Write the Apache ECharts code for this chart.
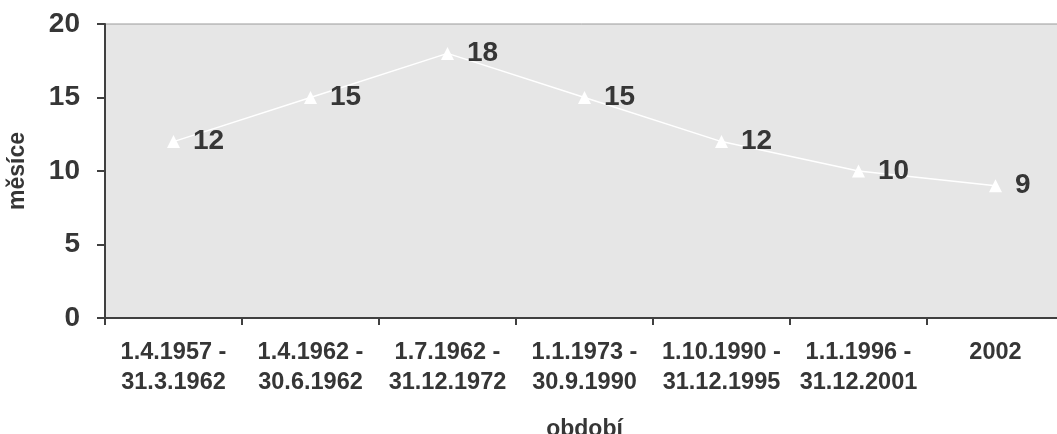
<!DOCTYPE html>
<html>
<head>
<meta charset="utf-8">
<script src="https://cdn.jsdelivr.net/npm/echarts@6/dist/echarts.min.js"></script>
<style>html,body{margin:0;padding:0;background:#fff;}#c{width:1057px;height:434px;}</style>
</head>
<body>
<div id="c"></div>
<script>
var categories = ['1.4.1957 -\n31.3.1962', '1.4.1962 -\n30.6.1962', '1.7.1962 -\n31.12.1972', '1.1.1973 -\n30.9.1990', '1.10.1990 -\n31.12.1995', '1.1.1996 -\n31.12.2001', '2002'];
var values = [12, 15, 18, 15, 12, 10, 9];
var yTicks = { min: 0, max: 20, interval: 5 };
var xName = 'období';
var yName = 'měsíce';

var txt = '#363636';
var font = '"Liberation Sans", Arial, sans-serif';
var chart = echarts.init(document.getElementById('c'));
chart.setOption({
  animation: false,
  grid: { left: 105, right: -7, top: 24, bottom: 116, outerBoundsMode: 'none', containLabel: false, show: true, backgroundColor: '#e6e6e6', borderColor: '#9a9a9a', borderWidth: 1 },
  xAxis: {
    type: 'category', data: categories, boundaryGap: true,
    name: xName, nameLocation: 'middle', nameGap: 100,
    nameTextStyle: { color: txt, fontSize: 23, fontWeight: 'bold', fontFamily: font },
    axisLine: { lineStyle: { color: '#404040', width: 2 } },
    axisTick: { show: true, alignWithLabel: false, length: 7, lineStyle: { color: '#404040', width: 2 } },
    axisLabel: { color: txt, fontSize: 23.5, fontWeight: 'bold', fontFamily: font, margin: 20, lineHeight: 30, interval: 0 },
    splitLine: { show: false }
  },
  yAxis: {
    type: 'value', min: yTicks.min, max: yTicks.max, interval: yTicks.interval,
    name: yName, nameLocation: 'middle', nameGap: 76, nameRotate: 90,
    nameTextStyle: { color: txt, fontSize: 23, fontWeight: 'bold', fontFamily: font },
    axisLine: { show: true, lineStyle: { color: '#404040', width: 2 } },
    axisTick: { show: true, length: 8, lineStyle: { color: '#404040', width: 2 } },
    axisLabel: { color: txt, fontSize: 28, fontWeight: 'bold', fontFamily: font, margin: 25 },
    splitLine: { show: false }
  },
  series: [{
    type: 'line', data: values,
    symbol: 'triangle', symbolSize: 13,
    itemStyle: { color: '#ffffff' },
    lineStyle: { color: '#ffffff', width: 1.5 },
    label: { show: true, position: 'right', distance: 13, color: txt, fontSize: 28, fontWeight: 'bold', fontFamily: font }
  }]
});
</script>
</body>
</html>
